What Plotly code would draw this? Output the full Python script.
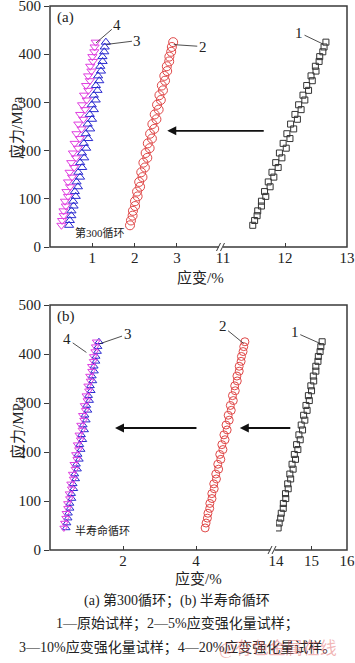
import plotly.graph_objects as go

# ---------------- data ----------------
# stress levels: loading branch (bottom -> top) and unloading branch (top -> bottom), MPa
STRESS_UP = [45, 65, 85, 105, 125, 145, 165, 185, 205, 225, 245, 265, 285, 305, 325, 345, 365, 385, 405, 425]
STRESS_DOWN = [415, 395, 375, 355, 335, 315, 295, 275, 255, 235, 215, 195, 175, 155, 135, 115, 95, 75, 55]

# ---- (a) 300th cycle, strain % ----
A1_UP = [11.48, 11.55, 11.62, 11.69, 11.76, 11.82, 11.89, 11.95, 12.02, 12.08, 12.14, 12.20, 12.26, 12.32, 12.38, 12.44, 12.50, 12.55, 12.61, 12.66]
A1_DOWN = [12.63, 12.56, 12.49, 12.42, 12.35, 12.29, 12.22, 12.16, 12.09, 12.03, 11.97, 11.91, 11.85, 11.79, 11.73, 11.67, 11.62, 11.56, 11.51]
A2_UP = [1.890, 1.951, 2.010, 2.070, 2.128, 2.185, 2.242, 2.299, 2.354, 2.408, 2.462, 2.514, 2.567, 2.618, 2.669, 2.718, 2.768, 2.816, 2.863, 2.910]
A2_DOWN = [2.879, 2.820, 2.760, 2.701, 2.643, 2.586, 2.529, 2.474, 2.419, 2.365, 2.311, 2.260, 2.207, 2.156, 2.107, 2.057, 2.008, 1.960, 1.913]
A3_UP = [0.450, 0.504, 0.557, 0.608, 0.660, 0.710, 0.760, 0.808, 0.855, 0.902, 0.948, 0.993, 1.036, 1.080, 1.122, 1.164, 1.204, 1.243, 1.282, 1.320]
A3_DOWN = [1.293, 1.239, 1.188, 1.136, 1.085, 1.035, 0.986, 0.939, 0.891, 0.845, 0.799, 0.755, 0.712, 0.669, 0.627, 0.586, 0.546, 0.507, 0.469]
A4_UP = [0.270, 0.323, 0.374, 0.425, 0.474, 0.522, 0.569, 0.615, 0.660, 0.704, 0.746, 0.788, 0.829, 0.867, 0.906, 0.942, 0.979, 1.014, 1.047, 1.080]
A4_DOWN = [1.054, 1.001, 0.950, 0.901, 0.852, 0.805, 0.758, 0.712, 0.669, 0.625, 0.583, 0.542, 0.502, 0.463, 0.426, 0.389, 0.354, 0.319, 0.286]

# ---- (b) half-life cycle, strain % ----
B1_UP = [14.060, 14.132, 14.204, 14.275, 14.344, 14.413, 14.482, 14.550, 14.616, 14.682, 14.748, 14.812, 14.876, 14.938, 15.001, 15.062, 15.123, 15.182, 15.242, 15.300]
B1_DOWN = [15.263, 15.192, 15.121, 15.051, 14.981, 14.912, 14.844, 14.778, 14.710, 14.645, 14.580, 14.516, 14.452, 14.390, 14.329, 14.267, 14.207, 14.148, 14.089]
B2_UP = [4.250, 4.313, 4.376, 4.438, 4.499, 4.560, 4.620, 4.680, 4.738, 4.796, 4.854, 4.910, 4.966, 5.022, 5.076, 5.131, 5.184, 5.236, 5.289, 5.340]
B2_DOWN = [5.308, 5.245, 5.183, 5.121, 5.060, 4.999, 4.940, 4.881, 4.822, 4.765, 4.708, 4.651, 4.596, 4.541, 4.486, 4.433, 4.379, 4.327, 4.276]
B3_UP = [0.440, 0.493, 0.546, 0.598, 0.649, 0.700, 0.750, 0.800, 0.848, 0.896, 0.944, 0.990, 1.036, 1.082, 1.126, 1.171, 1.214, 1.256, 1.299, 1.340]
B3_DOWN = [1.313, 1.260, 1.208, 1.156, 1.105, 1.054, 1.005, 0.956, 0.907, 0.860, 0.813, 0.766, 0.721, 0.676, 0.631, 0.588, 0.544, 0.502, 0.461]
B4_UP = [0.380, 0.433, 0.485, 0.537, 0.587, 0.637, 0.687, 0.736, 0.784, 0.832, 0.878, 0.924, 0.970, 1.015, 1.059, 1.103, 1.145, 1.187, 1.229, 1.270]
B4_DOWN = [1.244, 1.191, 1.139, 1.088, 1.037, 0.987, 0.939, 0.890, 0.842, 0.795, 0.748, 0.702, 0.657, 0.613, 0.569, 0.526, 0.483, 0.441, 0.400]

Y_TICKS = [0, 100, 200, 300, 400, 500]
XA_LEFT_TICKS = [1, 2, 3]
XA_RIGHT_TICKS = [11, 12, 13]
XB_LEFT_TICKS = [2, 4]
XB_RIGHT_TICKS = [14, 15, 16]

CAPTIONS = ["(a) 第300循环；(b) 半寿命循环",
            "1—原始试样；2—5%应变强化量试样；",
            "3—10%应变强化量试样；4—20%应变强化量试样。"]

# ---------------- figure ----------------
W, H = 355, 663
FONT = "Liberation Serif, Noto Sans CJK SC, serif"
AX = "#3a3a3a"

def px(x):
    return x / W

def py(y):
    return 1 - y / H

BLACK = "#333333"
RED = "#e04848"
BLUE = "#2a2ad0"
MAG = "#e040e0"

fig = go.Figure()

def loop(xu, xd, sym, color, size, xa, ya):
    fig.add_trace(go.Scatter(
        x=xu + xd, y=STRESS_UP + STRESS_DOWN, mode="markers",
        marker=dict(symbol=sym, size=size, color=color, line=dict(width=1, color=color)),
        xaxis=xa, yaxis=ya, showlegend=False, hoverinfo="skip"))

# (a)
loop(A1_UP, A1_DOWN, "square-open", BLACK, 6, "x2", "y")
loop(A2_UP, A2_DOWN, "circle-open", RED, 9, "x", "y")
loop(A3_UP, A3_DOWN, "triangle-up-open", BLUE, 8, "x", "y")
loop(A4_UP, A4_DOWN, "triangle-down-open", MAG, 8, "x", "y")
# (b)
loop(B1_UP, B1_DOWN, "square-open", BLACK, 6, "x4", "y2")
loop(B2_UP, B2_DOWN, "circle-open", RED, 8, "x3", "y2")
loop(B3_UP, B3_DOWN, "triangle-up-open", BLUE, 7, "x3", "y2")
loop(B4_UP, B4_DOWN, "triangle-down-open", MAG, 7, "x3", "y2")

tickfont = dict(family=FONT, size=15, color="#222")

def xax(domain, rng, tickvals, anchor):
    return dict(domain=domain, range=rng, anchor=anchor, tickvals=tickvals,
                ticks="inside", ticklen=4, tickcolor=AX, tickwidth=1,
                showline=False, showgrid=False, zeroline=False, automargin=False,
                ticklabeloverflow="allow", tickfont=tickfont, fixedrange=True)

def yax(domain, anchor):
    return dict(domain=domain, range=[0, 500], anchor=anchor, tickvals=Y_TICKS,
                ticks="outside", ticklen=5, tickcolor=AX, tickwidth=1,
                showline=False, showgrid=False, zeroline=False, automargin=False,
                ticklabeloverflow="allow", tickfont=tickfont, fixedrange=True)

TOP_A = 6
fig.update_layout(
    width=W, height=H, margin=dict(l=0, r=0, t=0, b=0, autoexpand=False),
    paper_bgcolor="white", plot_bgcolor="white",
    xaxis=xax([px(50), px(219.3)], [0, 4], XA_LEFT_TICKS, "y"),
    xaxis2=xax([px(223), px(347)], [11, 13], XA_RIGHT_TICKS, "y"),
    xaxis3=xax([px(50), px(269)], [0, 6], XB_LEFT_TICKS, "y2"),
    xaxis4=xax([px(276), px(347)], [14, 16], XB_RIGHT_TICKS, "y2"),
    yaxis=yax([py(247), py(TOP_A)], "x"),
    yaxis2=yax([py(550), py(305)], "x3"),
)

shapes = []
# frames
for (x0, y0, x1, y1) in [(50, TOP_A, 347, 247), (50, 305, 347, 550)]:
    shapes.append(dict(type="rect", xref="paper", yref="paper",
                       x0=px(x0), x1=px(x1), y0=py(y1), y1=py(y0),
                       line=dict(color=AX, width=1.5), fillcolor="rgba(0,0,0,0)", layer="above"))
# axis breaks: white gap + slashes
for (bx, by) in [(221, 247), (272.5, 550)]:
    shapes.append(dict(type="line", xref="paper", yref="paper",
                       x0=px(bx - 2), x1=px(bx + 2), y0=py(by), y1=py(by),
                       line=dict(color="white", width=3), layer="above"))
    for dx in (-2.5, 1.5):
        shapes.append(dict(type="line", xref="paper", yref="paper",
                           x0=px(bx + dx - 2), x1=px(bx + dx + 2), y0=py(by + 4), y1=py(by - 4),
                           line=dict(color=AX, width=1), layer="above"))
fig.update_layout(shapes=shapes)

ann = []
lblfont = dict(family=FONT, size=15, color="#222")

def label(text, x, y, xr, yr, ax, ay):
    ann.append(dict(text=text, x=x, y=y, xref=xr, yref=yr, ax=ax, ay=ay,
                    showarrow=True, arrowhead=0, arrowwidth=0.8, arrowcolor="#222",
                    standoff=1, font=lblfont))

# (a) series labels
label("1", 12.63, 420, "x2", "y", -25, -12)
label("2", 2.90, 420, "x", "y", 30, 2)
label("3", 1.31, 420, "x", "y", 32, -4)
label("4", 1.07, 422, "x", "y", 22, -19)
# (b) series labels
label("1", 15.29, 420, "x4", "y2", -27, -12)
label("2", 5.33, 420, "x3", "y2", -22, -18)
label("3", 1.33, 420, "x3", "y2", 29, -10)
label("4", 1.02, 402, "x3", "y2", -20, -14)

# long arrows
def arrow(x, y, xr, yr, ax):
    ann.append(dict(text="", x=x, y=y, xref=xr, yref=yr, ax=ax, ay=0,
                    showarrow=True, arrowhead=2, arrowsize=1, arrowwidth=1.8,
                    arrowcolor="#111", standoff=0))

arrow(2.77, 241, "x", "y", 98)
arrow(5.2, 249, "x3", "y2", 52)
arrow(1.78, 249, "x3", "y2", 83)

# cycle notes
ann.append(dict(text="第300循环", x=0.54, y=31, xref="x", yref="y", xanchor="left", yanchor="middle",
                showarrow=False, font=dict(family=FONT, size=11, color="#222")))
ann.append(dict(text="半寿命循环", x=0.63, y=39, xref="x3", yref="y2", xanchor="left", yanchor="middle",
                showarrow=False, font=dict(family=FONT, size=11, color="#222")))

def ptext(text, x, y, size=15, angle=0, color="#222", xanchor="center"):
    ann.append(dict(text=text, x=px(x), y=py(y), xref="paper", yref="paper",
                    xanchor=xanchor, yanchor="middle", textangle=angle, showarrow=False,
                    font=dict(family=FONT, size=size, color=color)))

# panel tags
ptext("(a)", 55, 17, xanchor="left")
ptext("(b)", 55, 316, xanchor="left")

# y titles
ptext("应力/MPa", 17, 128, angle=-90)
ptext("应力/MPa", 17, 428, angle=-90)

# x titles
ptext("应变/%", 200, 277)
ptext("应变/%", 198, 578)

# captions
for txt, yy in zip(CAPTIONS, (600, 623, 647)):
    ptext(txt, 177, yy, size=14)

# watermark
ptext("@有色金属在线", 278, 648, size=17, color="rgba(225,90,90,0.45)")

fig.update_layout(annotations=ann)

fig.write_html("out.html", config={"displayModeBar": False},
               post_script="document.body.style.margin='0';document.body.style.overflow='hidden';")
